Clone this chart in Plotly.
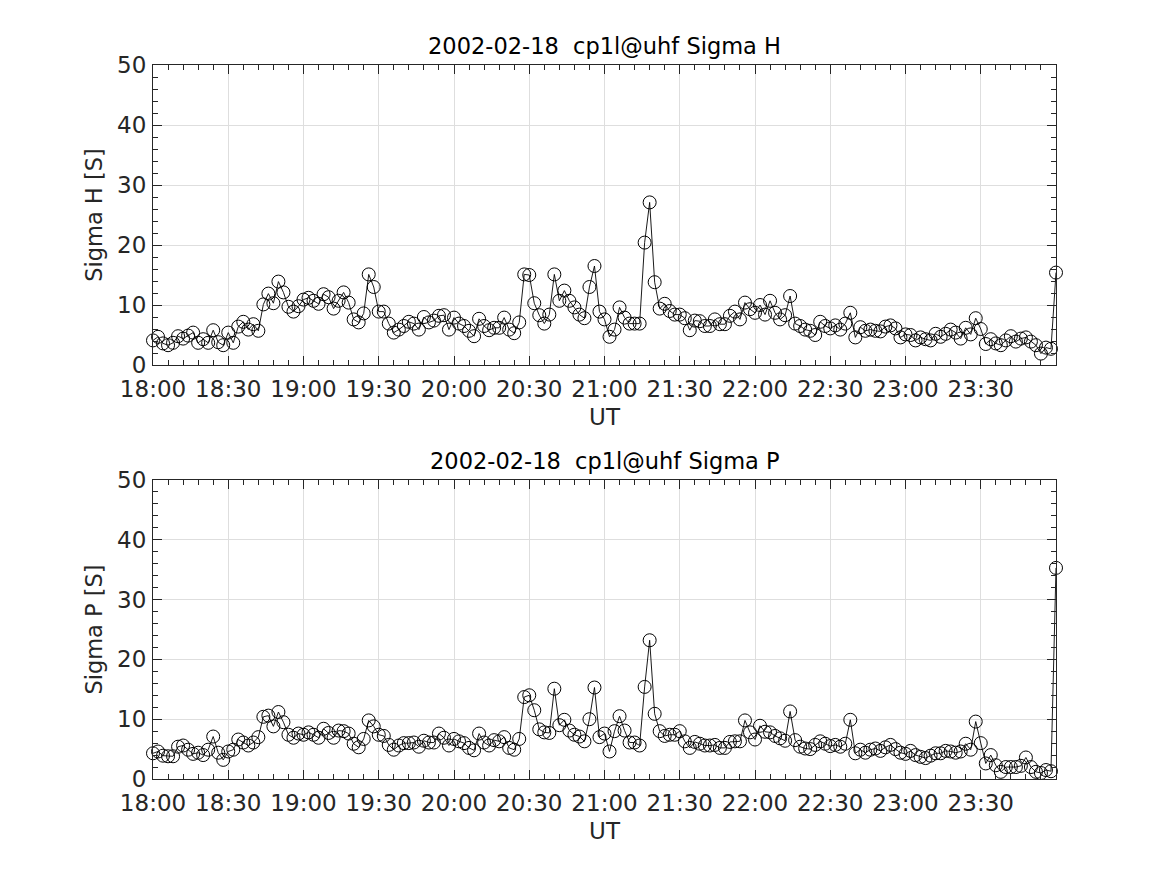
import pandas as pd
import plotly.graph_objects as go

start_time = "2002-02-18 18:00"
n_points = 181
step = "2min"

sigma_h = [4.1, 4.7, 3.6, 3.3, 3.7, 4.8, 4.4, 4.9, 5.4, 3.7,
           4.3, 3.7, 5.8, 3.8, 3.3, 5.4, 3.7, 6.4, 7.2, 5.9,
           6.8, 5.7, 10.1, 11.9, 10.3, 13.9, 12.1, 9.7, 8.9, 9.8,
           10.9, 11.2, 10.7, 10.2, 11.8, 11.3, 9.4, 10.7, 12.1, 10.4,
           7.6, 7.1, 8.6, 15.1, 13.0, 8.9, 8.9, 6.9, 5.4, 5.9,
           6.5, 7.2, 6.9, 5.9, 8.0, 7.1, 7.4, 8.2, 8.3, 5.9,
           7.9, 6.9, 6.5, 5.7, 4.8, 7.7, 6.5, 5.8, 6.2, 6.2,
           7.9, 5.9, 5.3, 7.1, 15.1, 15.0, 10.3, 8.3, 6.9, 8.4,
           15.1, 10.7, 12.4, 10.7, 9.6, 8.4, 7.8, 13.0, 16.5, 8.9,
           7.6, 4.7, 5.9, 9.6, 7.9, 6.9, 6.9, 6.9, 20.4, 27.1,
           13.8, 9.4, 10.2, 9.0, 8.4, 8.4, 7.8, 5.8, 7.4, 7.3,
           6.5, 6.5, 7.6, 6.8, 6.8, 8.2, 8.9, 7.6, 10.4, 9.3,
           8.7, 10.0, 8.4, 10.7, 8.7, 7.6, 8.3, 11.5, 6.9, 6.5,
           5.9, 5.7, 5.0, 7.2, 6.5, 6.1, 6.6, 5.9, 6.9, 8.7,
           4.6, 6.3, 5.7, 5.9, 5.7, 5.6, 6.4, 6.6, 6.1, 4.6,
           5.1, 5.0, 4.1, 4.6, 4.3, 4.1, 5.2, 4.7, 5.2, 5.9,
           5.4, 4.4, 6.2, 5.1, 7.8, 6.0, 3.5, 4.3, 3.6, 3.3,
           4.1, 4.8, 3.9, 4.4, 4.6, 3.9, 3.3, 1.9, 2.9, 2.7,
           15.4]

sigma_p = [4.3, 4.6, 3.9, 3.8, 3.8, 5.4, 5.6, 4.9, 4.2, 4.4,
           4.0, 4.9, 7.1, 4.4, 3.2, 4.6, 4.9, 6.6, 6.1, 5.6,
           6.1, 7.0, 10.4, 10.6, 8.8, 11.2, 9.5, 7.4, 6.9, 7.6,
           7.4, 7.8, 7.4, 6.9, 8.4, 7.7, 6.9, 8.1, 8.0, 7.6,
           5.9, 5.3, 6.7, 9.8, 8.8, 7.4, 7.2, 5.7, 4.9, 5.6,
           6.0, 6.0, 6.1, 5.4, 6.4, 6.1, 6.1, 7.6, 6.9, 5.6,
           6.7, 6.3, 6.0, 5.2, 4.8, 7.6, 6.1, 5.6, 6.5, 6.3,
           7.0, 5.2, 4.9, 6.7, 13.7, 14.0, 11.5, 8.3, 7.8, 7.7,
           15.1, 9.0, 9.9, 8.1, 7.4, 7.1, 6.3, 10.0, 15.3, 7.0,
           7.6, 4.6, 8.0, 10.5, 8.1, 6.1, 6.1, 5.6, 15.4, 23.2,
           10.9, 8.0, 7.2, 7.4, 7.4, 8.0, 6.3, 5.2, 6.2, 5.9,
           5.6, 5.6, 5.7, 5.2, 5.2, 6.2, 6.3, 6.3, 9.8, 7.8,
           6.6, 8.9, 7.9, 7.8, 7.2, 6.8, 6.4, 11.3, 6.5, 5.4,
           5.1, 5.0, 5.7, 6.3, 5.9, 5.5, 5.7, 5.4, 5.9, 9.9,
           4.3, 4.9, 4.4, 4.9, 5.1, 4.7, 5.3, 5.7, 5.0, 4.4,
           4.2, 4.7, 4.0, 3.7, 3.5, 3.9, 4.3, 4.3, 4.7, 4.6,
           4.4, 4.6, 5.9, 4.9, 9.6, 6.0, 2.6, 4.0, 2.3, 1.2,
           2.0, 2.0, 2.0, 2.2, 3.6, 2.0, 1.2, 1.0, 1.5, 1.3,
           35.3]

tick_times = ["18:00", "18:30", "19:00", "19:30", "20:00", "20:30",
              "21:00", "21:30", "22:00", "22:30", "23:00", "23:30"]
y_ticks = [0, 10, 20, 30, 40, 50]
titles = ["2002-02-18\u00a0 cp1l@uhf Sigma H", "2002-02-18\u00a0 cp1l@uhf Sigma P"]
ylabels = ["Sigma H [S]", "Sigma P [S]"]

times = pd.date_range(start_time, periods=n_points, freq=step)
tickvals = [pd.Timestamp("2002-02-18 " + t) for t in tick_times]
x_range = [pd.Timestamp("2002-02-18 18:00"), pd.Timestamp("2002-02-19 00:00")]

W, H = 1167, 875
xdom = [153 / W, 1056 / W]
ydoms = [[(H - 365) / H, (H - 65) / H], [(H - 779) / H, (H - 480) / H]]

FONT = "DejaVu Sans"
AX = "#262626"
GRID = "#dedede"
FS = 23
FT = 22.5

fig = go.Figure()
for k, vals in enumerate([sigma_h, sigma_p]):
    xa = "x" if k == 0 else "x2"
    ya = "y" if k == 0 else "y2"
    fig.add_trace(go.Scatter(
        x=times, y=vals, mode="lines+markers", xaxis=xa, yaxis=ya,
        line=dict(color="black", width=0.9),
        marker=dict(symbol="circle-open", size=13, color="black",
                    line=dict(width=1, color="black")),
        showlegend=False, hoverinfo="x+y", cliponaxis=False))

common_x = dict(
    range=x_range, type="date", tickvals=tickvals, ticktext=tick_times,
    showgrid=True, gridcolor=GRID, gridwidth=1, zeroline=False,
    showline=True, linecolor=AX, linewidth=1, mirror="allticks",
    ticks="inside", ticklen=9, tickcolor=AX, tickwidth=1,
    minor=dict(dtick=6 * 60 * 1000, ticks="inside", ticklen=5,
               tickcolor=AX, tickwidth=1, showgrid=False),
    tickfont=dict(family=FONT, size=FS, color=AX),
    ticklabelstandoff=3,
    title=dict(text="UT", font=dict(family=FONT, size=FS, color=AX), standoff=8),
    automargin=False, fixedrange=True,
)
common_y = dict(
    range=[0, 50], tickvals=y_ticks,
    showgrid=True, gridcolor=GRID, gridwidth=1, zeroline=False,
    showline=True, linecolor=AX, linewidth=1, mirror="allticks",
    ticks="inside", ticklen=9, tickcolor=AX, tickwidth=1,
    minor=dict(dtick=2, ticks="inside", ticklen=5, tickcolor=AX,
               tickwidth=1, showgrid=False),
    tickfont=dict(family=FONT, size=FS, color=AX),
    ticklabelstandoff=1,
    automargin=False, fixedrange=True,
)

fig.update_layout(
    width=W, height=H, autosize=False,
    margin=dict(l=0, r=0, t=0, b=0),
    paper_bgcolor="white", plot_bgcolor="white",
    xaxis=dict(domain=xdom, anchor="y", **common_x),
    yaxis=dict(domain=ydoms[0], anchor="x",
               title=dict(text=ylabels[0], font=dict(family=FONT, size=FT, color=AX), standoff=8),
               **common_y),
    xaxis2=dict(domain=xdom, anchor="y2", **common_x),
    yaxis2=dict(domain=ydoms[1], anchor="x2",
                title=dict(text=ylabels[1], font=dict(family=FONT, size=FT, color=AX), standoff=8),
                **common_y),
)

for k, t in enumerate(titles):
    fig.add_annotation(
        text=t, xref="paper", yref="paper",
        x=(xdom[0] + xdom[1]) / 2, y=ydoms[k][1] + 4 / H,
        xanchor="center", yanchor="bottom", showarrow=False,
        font=dict(family=FONT, size=FT, color="black"))

fig.write_html("out.html", config={"displayModeBar": False},
               post_script="document.body.style.margin='0';")
